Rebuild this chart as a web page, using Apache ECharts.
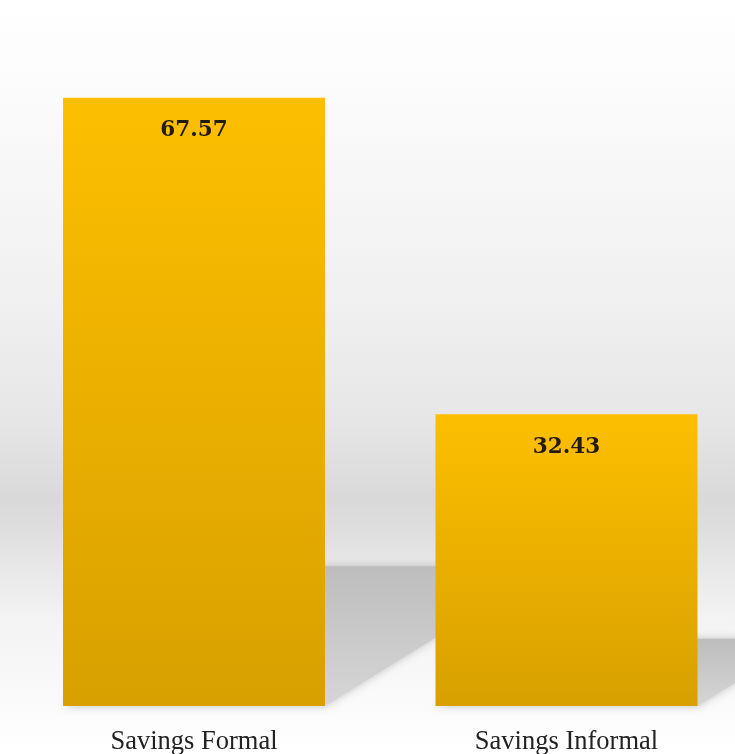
<!DOCTYPE html>
<html><head><meta charset="utf-8">
<script src="https://cdn.jsdelivr.net/npm/echarts@6/dist/echarts.min.js"></script>
<style>html,body{margin:0;padding:0;background:#fff}#c{width:735px;height:754px}</style>
</head><body><div id="c"></div>
<script>
var categories = ['Savings Formal', 'Savings Informal'];
var values = [67.57, 32.43];

var chart = echarts.init(document.getElementById('c'), null, {renderer: 'canvas'});
var BAR_W = 262;
chart.setOption({
  animation: false,
  graphic: [{
    type: 'rect', z: -100, silent: true,
    shape: {x: 0, y: 0, width: 735, height: 754},
    style: {fill: new echarts.graphic.LinearGradient(0, 0, 0, 1, [
      {offset: 0, color: '#ffffff'},
      {offset: 0.13, color: '#fbfbfb'},
      {offset: 0.40, color: '#f0f0f0'},
      {offset: 0.56, color: '#e6e6e6'},
      {offset: 0.66, color: '#d9d9d9'},
      {offset: 0.70, color: '#dedede'},
      {offset: 0.755, color: '#e8e8e8'},
      {offset: 0.82, color: '#f3f3f3'},
      {offset: 0.93, color: '#fafafa'},
      {offset: 1, color: '#ffffff'}
    ])}
  }],
  grid: {left: 194, right: 168.5, top: 76, bottom: 48, containLabel: false, outerBoundsMode: 'none'},
  xAxis: {
    type: 'category', data: categories, boundaryGap: false,
    axisLine: {show: false}, axisTick: {show: false}, splitLine: {show: false},
    axisLabel: {fontFamily: '"Liberation Serif", "Times New Roman", serif', fontSize: 26.5, color: '#222', margin: 23}
  },
  yAxis: {type: 'value', min: 0, max: 70, show: false, splitLine: {show: false}},
  series: [{
    type: 'custom', z: 1, silent: true, clip: false,
    data: values.map(function (v, i) { return [i, v]; }),
    renderItem: function (params, api) {
      var top = api.coord([api.value(0), api.value(1)]);
      var base = api.coord([api.value(0), 0]);
      var h = base[1] - top[1];
      var sh = h * 0.23;
      var dx = sh / 0.62;
      var xl = base[0] - BAR_W / 2, xr = base[0] + BAR_W / 2;
      return {
        type: 'polygon',
        shape: {points: [[xl, base[1]], [xr, base[1]], [xr + dx, base[1] - sh], [xl + dx, base[1] - sh]]},
        style: {
          fill: new echarts.graphic.LinearGradient(0, 0, 0, 1, [
            {offset: 0, color: '#bdbdbd'},
            {offset: 1, color: '#d6d6d6'}
          ]),
          shadowBlur: 8, shadowColor: 'rgba(180,180,180,0.8)'
        }
      };
    }
  }, {
    type: 'bar', z: 2, data: values, barWidth: BAR_W, clip: false,
    itemStyle: {color: new echarts.graphic.LinearGradient(0, 0, 0, 1, [
      {offset: 0, color: '#fcbf00'},
      {offset: 1, color: '#d8a000'}
    ])},
    label: {
      show: true, position: 'insideTop', distance: 22,
      fontFamily: '"DejaVu Serif", serif', fontWeight: 'bold', fontSize: 21.5, color: '#231a10',
      formatter: function (p) { return p.value.toFixed(2); }
    }
  }]
});
</script></body></html>
